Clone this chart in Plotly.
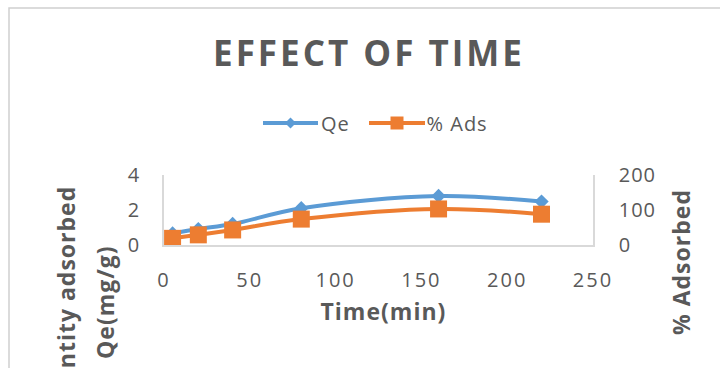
import plotly.graph_objects as go

# Contact time study: adsorption capacity and removal percentage
time_min = [5, 20, 40, 80, 160, 220]
qe_mg_g = [0.66, 0.91, 1.2, 2.1, 2.8, 2.48]
pct_ads = [19, 29, 43, 74, 103, 88]

x_ticks = [0, 50, 100, 150, 200, 250]
qe_ticks = [0, 2, 4]
ads_ticks = [0, 100, 200]

BLUE = "#5B9BD5"
ORANGE = "#ED7D31"
TEXT = "#595959"
GRID = "#D9D9D9"
FONT = "Open Sans"

W, H = 720, 368
L, R, T, B = 164, 127, 175, 123
PW, PH = W - L - R, H - T - B


def px(xp):
    # figure pixel -> paper x
    return (xp - L) / PW


def py(yp):
    # figure pixel -> paper y
    return (H - B - yp) / PH


fig = go.Figure()
fig.add_trace(go.Scatter(
    x=time_min, y=qe_mg_g, name="Qe", mode="lines+markers",
    line=dict(color=BLUE, width=4, shape="spline", smoothing=1),
    marker=dict(symbol="diamond", size=11, color=BLUE),
    yaxis="y", showlegend=False,
))
fig.add_trace(go.Scatter(
    x=time_min, y=pct_ads, name="% Ads", mode="lines+markers",
    line=dict(color=ORANGE, width=4, shape="spline", smoothing=1),
    marker=dict(symbol="square", size=17, color=ORANGE),
    yaxis="y2", showlegend=False,
))

tick_font = dict(family=FONT, size=20, color=TEXT)
fig.update_layout(
    width=W, height=H,
    margin=dict(l=L, r=R, t=T, b=B, pad=0),
    paper_bgcolor="white", plot_bgcolor="white",
    title=dict(text="<b>EFFECT OF TIME</b>", x=369 / W, xanchor="center",
               y=1 - 54 / H, yanchor="middle",
               font=dict(family=FONT, size=35, color=TEXT)),
    xaxis=dict(range=[0, 250], tickvals=x_ticks, showgrid=False, zeroline=False,
               showline=True, linecolor=GRID, linewidth=1.5, ticks="",
               tickfont=tick_font, ticklabelstandoff=16),
    yaxis=dict(range=[0, 4], tickvals=qe_ticks, showgrid=False, zeroline=False,
               showline=True, linecolor=GRID, linewidth=1.5, ticks="",
               tickfont=tick_font, ticklabelstandoff=18),
    yaxis2=dict(range=[0, 200], tickvals=ads_ticks, overlaying="y", side="right",
                showgrid=False, zeroline=False, showline=True, linecolor=GRID,
                linewidth=1.5, ticks="", tickfont=tick_font, ticklabelstandoff=20),
    showlegend=False,
)

title_font = dict(family=FONT, size=23, color=TEXT)
fig.add_annotation(text="<b>Time(min)</b>", xref="paper", yref="paper",
                   x=px(383), y=py(311), xanchor="center", yanchor="middle",
                   showarrow=False, font=title_font)
# left axis title, two centred lines
for line_text, cx in [("Quantity adsorbed", 66), ("Qe(mg/g)", 105)]:
    fig.add_annotation(text=f"<b>{line_text}</b>", xref="paper", yref="paper",
                       x=px(cx), y=py(302), xanchor="center", yanchor="middle",
                       textangle=-90, showarrow=False, font=title_font)
fig.add_annotation(text="<b>% Adsorbed</b>", xref="paper", yref="paper",
                   x=px(681), y=py(262), xanchor="center", yanchor="middle",
                   textangle=-90, showarrow=False, font=title_font)

# chart frame
fig.add_shape(type="rect", xref="paper", yref="paper",
              x0=px(9), x1=px(760), y0=py(8), y1=py(420),
              line=dict(color="#D0D0D0", width=1.5), fillcolor="rgba(0,0,0,0)", layer="below")

# legend drawn as line + marker + label
leg_y = py(123)
legend_items = [("Qe", BLUE, 263, 318, "diamond"), ("% Ads", ORANGE, 369, 425, "square")]
for label, color, x0, x1, sym in legend_items:
    fig.add_shape(type="line", xref="paper", yref="paper",
                  x0=px(x0), x1=px(x1), y0=leg_y, y1=leg_y,
                  line=dict(color=color, width=4))
    cx = px((x0 + x1) / 2)
    if sym == "diamond":
        path = "M-5.5,0 L0,5.5 L5.5,0 L0,-5.5 Z"
    else:
        path = "M-6.5,-6.5 L6.5,-6.5 L6.5,6.5 L-6.5,6.5 Z"
    fig.add_shape(type="path", xref="paper", yref="paper",
                  xsizemode="pixel", ysizemode="pixel", xanchor=cx, yanchor=leg_y,
                  path=path, fillcolor=color, line=dict(color=color, width=0))
    fig.add_annotation(text=label, xref="paper", yref="paper",
                       x=px(x1 + 2), y=leg_y, xanchor="left", yanchor="middle",
                       showarrow=False, font=dict(family=FONT, size=20, color=TEXT))

# letter spacing for title, axis titles and tick labels
post = """
var gd = document.getElementById('{plot_id}');
function spaceText() {
  var rules = [['.gtitle', '3px'], ['.annotation-text', '1px'],
               ['.xtick text', '2px'], ['.ytick text', '1px'], ['.y2tick text', '1px']];
  rules.forEach(function (r) {
    gd.querySelectorAll(r[0]).forEach(function (el) { el.style.letterSpacing = r[1]; });
  });
}
spaceText();
gd.on('plotly_afterplot', spaceText);
"""

fig.write_html("out.html", post_script=post)
